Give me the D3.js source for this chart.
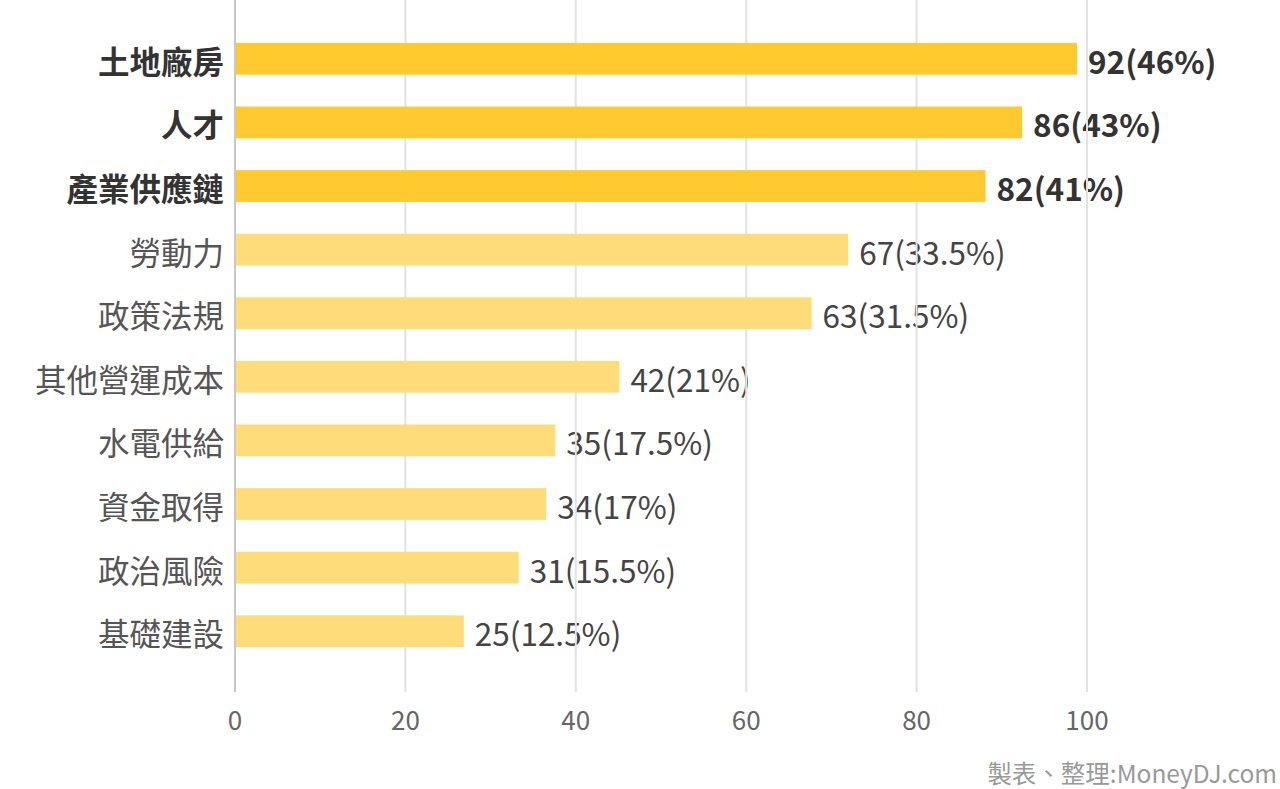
<!DOCTYPE html>
<html>
<head>
<meta charset="utf-8">
<script src="https://cdn.jsdelivr.net/npm/d3@7"></script>
<style>
  html, body { margin: 0; padding: 0; background: #fff; }
  svg { display: block; font-family: "Noto Sans CJK TC", "Noto Sans", sans-serif; }
</style>
</head>
<body>
<svg id="chart" width="1280" height="789"></svg>
<script>
const categories = ["土地廠房", "人才", "產業供應鏈", "勞動力", "政策法規", "其他營運成本", "水電供給", "資金取得", "政治風險", "基礎建設"];
const values = [92, 86, 82, 67, 63, 42, 35, 34, 31, 25];
const valueLabels = ["92(46%)", "86(43%)", "82(41%)", "67(33.5%)", "63(31.5%)", "42(21%)", "35(17.5%)", "34(17%)", "31(15.5%)", "25(12.5%)"];
const highlighted = [true, true, true, false, false, false, false, false, false, false];
const axisTicks = [0, 20, 40, 60, 80, 100];
const sourceNote = "製表、整理:MoneyDJ.com";

const svg = d3.select("#chart");
const x0 = 235, axisBottom = 692;

// Axis scale (tick labels) and bar-length scale as drawn in the reference
const xAxisScale = d3.scaleLinear().domain([0, 100]).range([x0, 1087]);
const xBar = d3.scaleLinear().domain([0, 92]).range([x0, 1077]);
const y = d3.scaleBand().domain(categories).range([27, 663]).paddingInner(0.5).paddingOuter(0.25);

// category labels
svg.append("g").selectAll("text").data(categories).join("text")
  .attr("x", 224)
  .attr("y", d => y(d) + y.bandwidth() / 2 + 1)
  .attr("text-anchor", "end")
  .attr("dominant-baseline", "central")
  .attr("font-size", 31.5)
  .attr("font-weight", (d, i) => highlighted[i] ? 700 : 400)
  .attr("fill", (d, i) => highlighted[i] ? "#333" : "#555")
  .text(d => d);

// value labels
svg.append("g").selectAll("text").data(values).join("text")
  .attr("x", d => xBar(d) + 11)
  .attr("y", (d, i) => y(categories[i]) + y.bandwidth() / 2 + 1)
  .attr("dominant-baseline", "central")
  .attr("font-size", 31.5)
  .attr("font-weight", (d, i) => highlighted[i] ? 700 : 400)
  .attr("fill", (d, i) => highlighted[i] ? "#333" : "#444")
  .text((d, i) => valueLabels[i]);

// gridlines
svg.append("g").selectAll("line").data(axisTicks.slice(1)).join("line")
  .attr("x1", d => xAxisScale(d)).attr("x2", d => xAxisScale(d))
  .attr("y1", 0).attr("y2", axisBottom)
  .attr("stroke", "#e2e2e2").attr("stroke-width", 2);

// bars
svg.append("g").selectAll("rect").data(values).join("rect")
  .attr("x", x0 + 1)
  .attr("y", (d, i) => y(categories[i]))
  .attr("width", d => xBar(d) - x0 - 1)
  .attr("height", y.bandwidth())
  .attr("fill", (d, i) => highlighted[i] ? "#FFCA30" : "#FFDC7A");

// axis line
svg.append("line")
  .attr("x1", x0).attr("x2", x0).attr("y1", 0).attr("y2", axisBottom)
  .attr("stroke", "#c8c8c8").attr("stroke-width", 2);

// tick labels
svg.append("g").selectAll("text").data(axisTicks).join("text")
  .attr("x", d => xAxisScale(d))
  .attr("y", 718)
  .attr("text-anchor", "middle")
  .attr("dominant-baseline", "central")
  .attr("font-size", 26)
  .attr("fill", "#666")
  .text(d => d);

// source note
svg.append("text")
  .attr("x", 1277).attr("y", 772)
  .attr("text-anchor", "end")
  .attr("dominant-baseline", "central")
  .attr("font-size", 24.5)
  .attr("fill", "#999")
  .text(sourceNote);
</script>
</body>
</html>
